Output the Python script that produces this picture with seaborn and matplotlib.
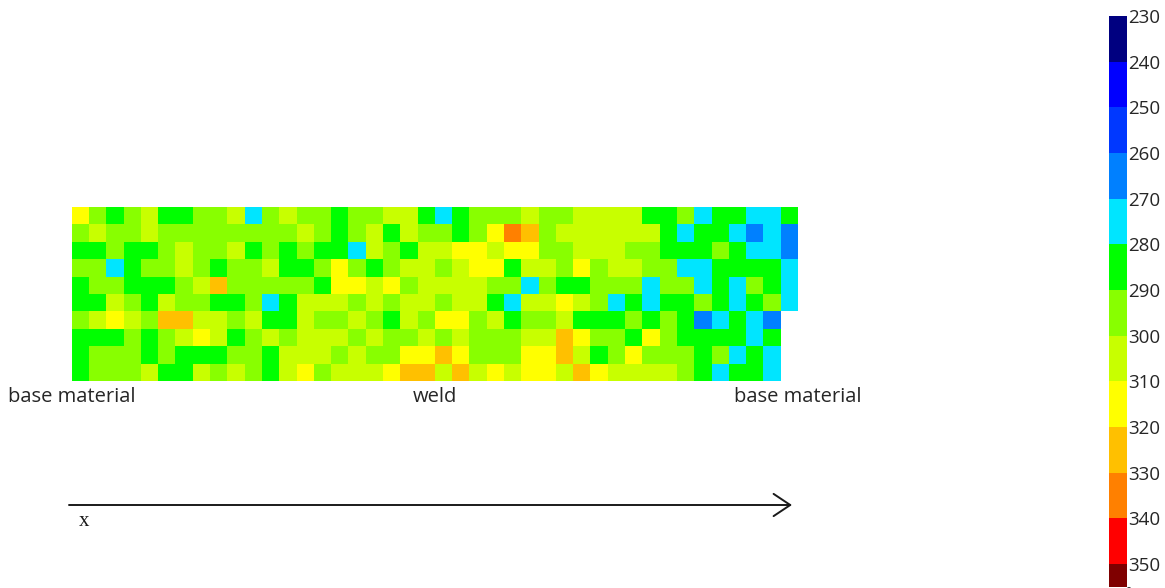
import matplotlib

matplotlib.use("Agg")

import numpy as np
import matplotlib.pyplot as plt
from matplotlib.colors import ListedColormap, BoundaryNorm
from matplotlib.patches import FancyArrowPatch
import seaborn as sns

nan = np.nan

# hardness map, one list per measuring row (top to bottom), 42 points along x
row_01 = [315, 295, 285, 295, 305, 285, 285, 295, 295, 305, 275, 295, 305, 295, 295, 285, 295, 295, 305, 305, 285,
          275, 285, 295, 295, 295, 305, 295, 295, 305, 305, 305, 305, 285, 285, 295, 275, 285, 285, 275, 275, 285]
row_02 = [295, 305, 295, 295, 305, 295, 295, 295, 295, 295, 295, 295, 295, 305, 295, 285, 295, 305, 285, 305, 295,
          295, 285, 295, 315, 335, 325, 295, 305, 305, 305, 305, 305, 305, 285, 275, 285, 285, 275, 265, 275, 265]
row_03 = [285, 285, 295, 285, 285, 295, 305, 295, 295, 305, 285, 295, 285, 295, 285, 285, 275, 305, 295, 285, 305,
          305, 315, 315, 305, 315, 315, 295, 295, 305, 305, 305, 295, 295, 285, 285, 285, 295, 285, 275, 275, 265]
row_04 = [295, 295, 275, 285, 295, 295, 305, 295, 285, 295, 295, 305, 285, 285, 295, 315, 295, 285, 295, 305, 305,
          295, 305, 315, 315, 285, 305, 305, 295, 315, 295, 305, 305, 295, 295, 275, 275, 285, 285, 285, 285, 275]
row_05 = [285, 295, 295, 285, 285, 285, 295, 305, 325, 295, 295, 295, 295, 295, 285, 315, 315, 305, 315, 295, 305,
          305, 305, 305, 295, 295, 275, 295, 285, 285, 295, 295, 295, 275, 295, 295, 275, 285, 275, 295, 285, 275]
row_06 = [285, 285, 305, 295, 285, 305, 295, 295, 285, 285, 295, 275, 285, 305, 305, 305, 295, 305, 295, 305, 305,
          295, 305, 305, 285, 275, 305, 305, 315, 305, 295, 275, 285, 275, 285, 285, 295, 285, 275, 285, 295, 275]
row_07 = [295, 305, 315, 305, 295, 325, 325, 305, 305, 295, 305, 285, 285, 305, 295, 295, 305, 295, 285, 305, 295,
          315, 315, 295, 305, 285, 295, 295, 305, 285, 285, 285, 295, 285, 295, 285, 265, 275, 285, 275, 265, nan]
row_08 = [285, 285, 285, 295, 285, 295, 305, 315, 305, 285, 295, 305, 295, 305, 305, 305, 295, 305, 295, 295, 305,
          295, 305, 295, 295, 295, 305, 305, 325, 315, 295, 295, 285, 315, 295, 285, 285, 285, 285, 275, 285, nan]
row_09 = [285, 295, 295, 295, 285, 295, 285, 285, 285, 295, 295, 285, 305, 305, 305, 295, 305, 295, 295, 315, 315,
          325, 315, 295, 295, 295, 315, 315, 325, 305, 285, 295, 315, 295, 295, 295, 285, 295, 275, 285, 275, nan]
row_10 = [285, 295, 295, 295, 305, 285, 285, 305, 295, 305, 295, 285, 305, 315, 295, 305, 305, 305, 315, 325, 325,
          305, 325, 305, 315, 305, 315, 315, 305, 325, 315, 305, 305, 305, 305, 295, 285, 275, 285, 285, 275, nan]

level_bounds = [230, 240, 250, 260, 270, 280, 290, 300, 310, 320, 330, 340, 350, 355]
level_ticks = [230, 240, 250, 260, 270, 280, 290, 300, 310, 320, 330, 340, 350]
level_colors = ["#000080", "#0000ff", "#0038ff", "#0080ff", "#00e5ff", "#00ff00", "#88ff00",
                "#c8ff00", "#ffff00", "#ffc000", "#ff8000", "#ff0000", "#7f0000"]
zone_labels = ["base material", "weld", "base material"]

grid = np.array([row_01, row_02, row_03, row_04, row_05, row_06, row_07, row_08, row_09, row_10])

sns.set_style("white")
plt.rcParams["font.family"] = ["Open Sans", "DejaVu Sans"]

W, H = 1165, 588
fig = plt.figure(figsize=(W / 100, H / 100), dpi=100)
ax = fig.add_axes([71.7 / W, 1 - 381 / H, 726.3 / W, 174 / H])
cax = fig.add_axes([1109 / W, 1 - 587 / H, 17.5 / W, 571 / H])

cmap = ListedColormap(level_colors)
norm = BoundaryNorm(level_bounds, cmap.N)

sns.heatmap(grid, ax=ax, cbar_ax=cax, cmap=cmap, norm=norm,
            xticklabels=False, yticklabels=False,
            cbar_kws={"spacing": "proportional", "ticks": level_ticks})

ncols = grid.shape[1]
ax.set_xticks([0, ncols / 2, ncols])
ax.set_xticklabels(zone_labels)
ax.tick_params(axis="x", length=0, pad=4, labelsize=14.5, labelcolor="#262626")
for s in ax.spines.values():
    s.set_visible(False)

cbar = ax.collections[0].colorbar
cbar.ax.invert_yaxis()
cbar.outline.set_visible(False)
cbar.ax.tick_params(length=0, pad=1, labelsize=13.5, labelcolor="#262626")

# x direction arrow under the map
y_arrow = 1 - 505 / H
arrow = FancyArrowPatch((69 / W, y_arrow), (792 / W, y_arrow), transform=fig.transFigure,
                        arrowstyle="->,head_length=12,head_width=8", mutation_scale=1,
                        lw=1.4, color="#1a1a1a", shrinkA=0, shrinkB=0)
fig.add_artist(arrow)
fig.text(84 / W, 1 - 521 / H, "x", ha="center", va="center", fontsize=15,
         family=["Liberation Serif", "DejaVu Serif"], color="#1a1a1a")

fig.savefig("out.png", dpi=100)
plt.close(fig)
